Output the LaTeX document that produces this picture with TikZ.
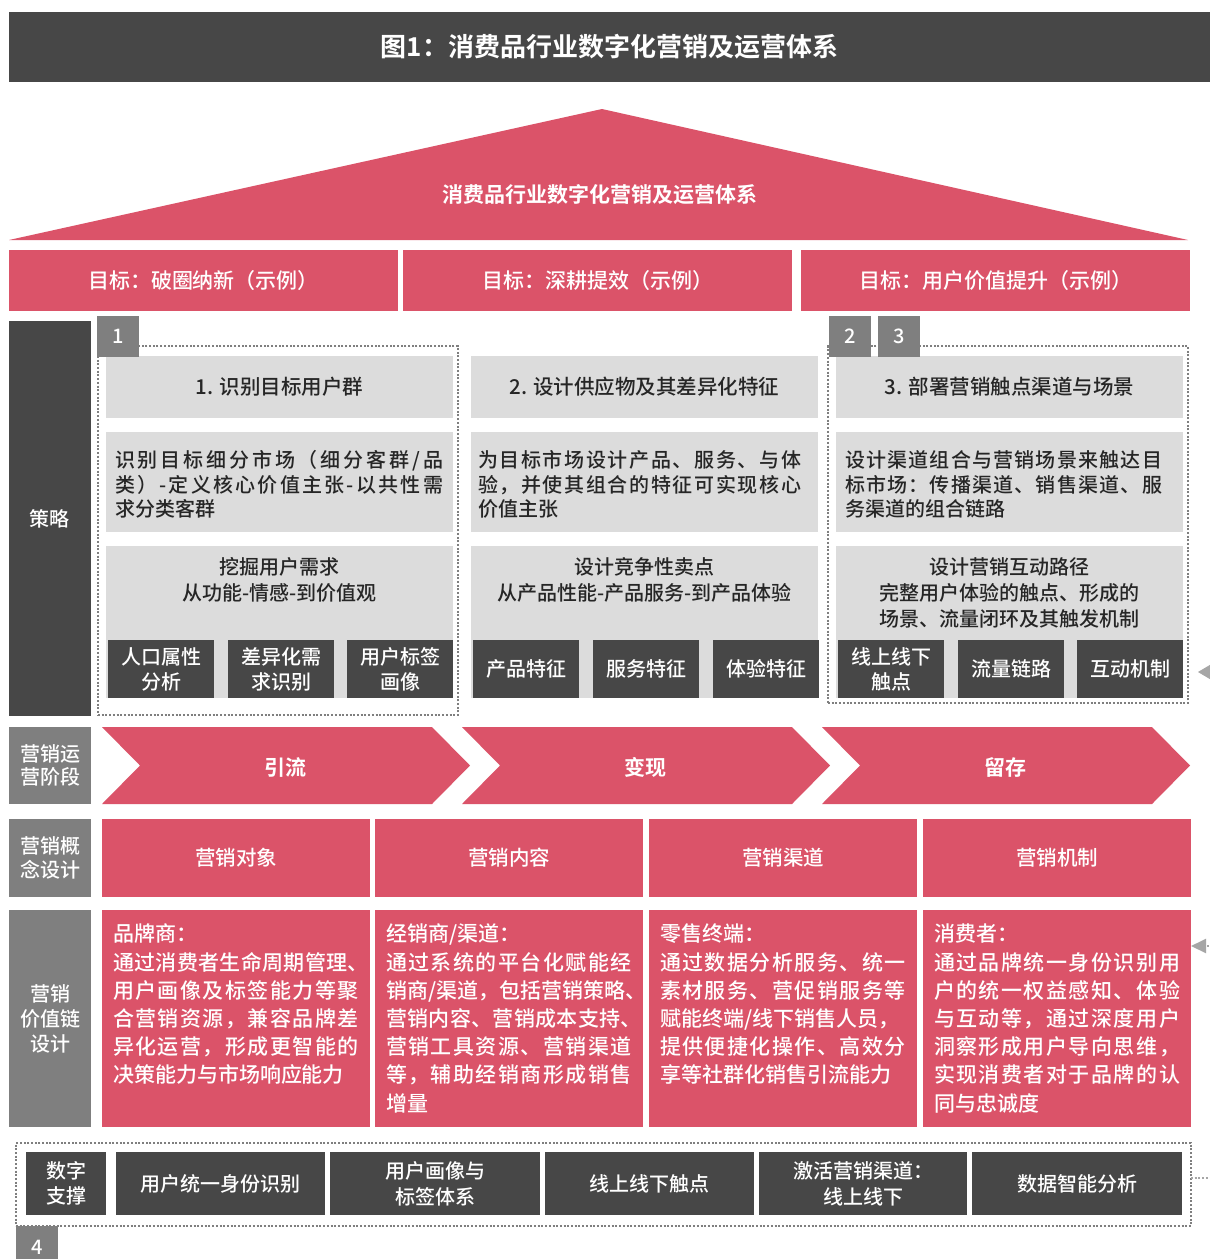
\documentclass[tikz,border=0pt]{standalone}
\usepackage{fontspec}
\setmainfont{Noto Sans CJK SC}[UprightFont={* Medium},BoldFont={* Bold}]
\usetikzlibrary{arrows.meta}
\definecolor{cred}{HTML}{DB5369}
\definecolor{cdark}{HTML}{474747}
\definecolor{cgray}{HTML}{7F7F7F}
\definecolor{clight}{HTML}{DCDCDC}
\definecolor{ctext}{HTML}{262626}
\definecolor{carrow}{HTML}{A6A6A6}
% justified single line: characters spread over a given width
\def\jlEnd{\relax}
\def\jlA#1{\ifx#1\jlEnd\else#1\expandafter\jlB\fi}
\def\jlB#1{\ifx#1\jlEnd\else\hfil#1\expandafter\jlB\fi}
\newcommand\jl[2]{\hbox to #1pt{\jlA#2\jlEnd}}
\newcommand\bx[7]{\node[#6,minimum width={(#4-#2)*1pt},minimum height={(#5-#3)*1pt}] (#1) at ({(#2+#4)/2},{(#3+#5)/2}) {#7};}
\tikzset{
  base/.style={inner sep=0pt,outer sep=0pt,align=center},
  redbox/.style={base,fill=cred,text=white},
  darkbox/.style={base,fill=cdark,text=white},
  graybox/.style={base,fill=cgray,text=white},
  lightbox/.style={base,fill=clight,text=ctext},
  dotbox/.style={base,draw=cgray,line width=2pt,dash pattern=on 2pt off 1.7pt},
  dotline/.style={draw=carrow,line width=2pt,dash pattern=on 2pt off 1.7pt},
  ftw/.style={font=\fontsize{20}{24.5}\selectfont},
  ftg/.style={font=\fontsize{21}{25}\selectfont},
  fth/.style={font=\fontsize{20.5}{25}\selectfont},
  ftl/.style={font=\fontsize{20}{26}\selectfont},
  fts/.style={font=\fontsize{20}{25}\selectfont},
  ftv/.style={font=\fontsize{21}{28.2}\selectfont},
  desctext/.style={base,ftw,text=ctext,align=left,anchor=west},
  vctext/.style={base,ftv,text=white,align=left,anchor=west},
  stagetext/.style={base,text=white,font=\bfseries\fontsize{21}{25}\selectfont},
}
\begin{document}
\begin{tikzpicture}[x=1pt,y=-1pt]
\useasboundingbox (0,0) rectangle (1210,1259);
\fill[white] (0,0) rectangle (1210,1259);

% title bar
\bx{title}{9}{12}{1210}{82}{darkbox,font=\bfseries\fontsize{26}{30}\selectfont}{图1：消费品行业数字化营销及运营体系}

% roof
\coordinate (roofL) at (9,240);
\coordinate (roofT) at (602,109);
\coordinate (roofR) at (1188,240);
\fill[cred] (roofL) -- (roofT) -- (roofR) -- cycle;
\node[base,text=white,font=\bfseries\fontsize{21}{25}\selectfont] (rooftext) at (600,195) {消费品行业数字化营销及运营体系};

% goals
\bx{goalA}{9}{250}{398}{311}{redbox,ftg}{目标：破圈纳新（示例）}
\bx{goalB}{403}{250}{792}{311}{redbox,ftg}{目标：深耕提效（示例）}
\bx{goalC}{801}{250}{1190}{311}{redbox,ftg}{目标：用户价值提升（示例）}

% left labels
\bx{lblStrategy}{9}{321}{91}{716}{darkbox,ftw}{策略}
\bx{lblStage}{9}{727}{91}{804}{graybox,font=\fontsize{20}{23.5}\selectfont}{营销运\\营阶段}
\bx{lblConcept}{9}{819}{91}{897}{graybox,font=\fontsize{20}{24}\selectfont}{营销概\\念设计}
\bx{lblChain}{9}{910}{91}{1127}{graybox,fts}{营销\\价值链\\设计}

% dotted groups
\bx{grpA}{98}{346}{458}{715}{dotbox}{}
\bx{grpC}{828}{346}{1188}{703}{dotbox}{}
\bx{grpD}{16}{1143}{1191}{1226}{dotbox}{}

% strategy headers
\bx{hA}{106}{356}{453}{418}{lightbox,fth}{1. 识别目标用户群}
\bx{hB}{471}{356}{818}{418}{lightbox,fth}{2. 设计供应物及其差异化特征}
\bx{hC}{836}{356}{1183}{418}{lightbox,fth}{3. 部署营销触点渠道与场景}

% number tabs
\bx{tabA}{97}{316}{139}{357}{graybox,ftw}{1}
\bx{tabB}{829}{316}{871}{357}{graybox,ftw}{2}
\bx{tabC}{878}{316}{920}{357}{graybox,ftw}{3}
\bx{tabD}{16}{1226}{58}{1268}{graybox,ftw}{4}

% descriptions
\bx{dA}{106}{432}{453}{532}{lightbox}{}
\bx{dB}{471}{432}{818}{532}{lightbox}{}
\bx{dC}{836}{432}{1183}{532}{lightbox}{}
\node[desctext] (dAt) at (115,484.5) {\jl{328}{识别目标细分市场（细分客群/品}\\\jl{328}{类）-定义核心价值主张-以共性需}\\求分类客群};
\node[desctext] (dBt) at (478,484.5) {\jl{323}{为目标市场设计产品、服务、与体}\\\jl{323}{验，并使其组合的特征可实现核心}\\价值主张};
\node[desctext] (dCt) at (845,484.5) {\jl{317}{设计渠道组合与营销场景来触达目}\\\jl{317}{标市场：传播渠道、销售渠道、服}\\务渠道的组合链路};

% lower strategy boxes
\bx{lA}{106}{546}{453}{698}{lightbox}{}
\bx{lB}{471}{546}{818}{698}{lightbox}{}
\bx{lC}{836}{546}{1183}{698}{lightbox}{}
\node[base,ftl,text=ctext] (lAt) at (279.5,580) {挖掘用户需求\\从功能-情感-到价值观};
\node[base,ftl,text=ctext] (lBt) at (644.5,580) {设计竞争性卖点\\从产品性能-产品服务-到产品体验};
\node[base,ftl,text=ctext] (lCt) at (1009.5,593) {设计营销互动路径\\完整用户体验的触点、形成的\\场景、流量闭环及其触发机制};

% dark sub boxes
\bx{sA1}{108}{640}{214}{698}{darkbox,fts}{人口属性\\分析}
\bx{sA2}{228}{640}{334}{698}{darkbox,fts}{差异化需\\求识别}
\bx{sA3}{347}{640}{453}{698}{darkbox,fts}{用户标签\\画像}
\bx{sB1}{473}{640}{579}{698}{darkbox,fts}{产品特征}
\bx{sB2}{593}{640}{699}{698}{darkbox,fts}{服务特征}
\bx{sB3}{713}{640}{819}{698}{darkbox,fts}{体验特征}
\bx{sC1}{838}{640}{944}{698}{darkbox,fts}{线上线下\\触点}
\bx{sC2}{958}{640}{1064}{698}{darkbox,fts}{流量链路}
\bx{sC3}{1077}{640}{1183}{698}{darkbox,fts}{互动机制}

% stage chevrons
\fill[cred] (102,727) -- (432,727) -- (470,765.5) -- (432,804) -- (102,804) -- (140,765.5) -- cycle;
\fill[cred] (462,727) -- (792,727) -- (830,765.5) -- (792,804) -- (462,804) -- (500,765.5) -- cycle;
\fill[cred] (822,727) -- (1152,727) -- (1190,765.5) -- (1152,804) -- (822,804) -- (860,765.5) -- cycle;
\node[stagetext] (stA) at (285,767) {引流};
\node[stagetext] (stB) at (645,767) {变现};
\node[stagetext] (stC) at (1005,767) {留存};

% concept row
\bx{cA}{102}{819}{370}{897}{redbox,fth}{营销对象}
\bx{cB}{375}{819}{643}{897}{redbox,fth}{营销内容}
\bx{cC}{649}{819}{917}{897}{redbox,fth}{营销渠道}
\bx{cD}{923}{819}{1191}{897}{redbox,fth}{营销机制}

% value chain row
\bx{vcA}{102}{910}{370}{1127}{redbox}{}
\bx{vcB}{375}{910}{643}{1127}{redbox}{}
\bx{vcC}{649}{910}{917}{1127}{redbox}{}
\bx{vcD}{923}{910}{1191}{1127}{redbox}{}
\node[vctext] (vcAt) at (113,1004.5) {品牌商：\\\jl{256}{通过消费者生命周期管理、}\\\jl{246}{用户画像及标签能力等聚}\\\jl{246}{合营销资源，兼容品牌差}\\\jl{246}{异化运营，形成更智能的}\\决策能力与市场响应能力};
\node[vctext] (vcBt) at (386,1018.5) {经销商/渠道：\\\jl{246}{通过系统的平台化赋能经}\\\jl{260}{销商/渠道，包括营销策略、}\\\jl{256}{营销内容、营销成本支持、}\\\jl{246}{营销工具资源、营销渠道}\\\jl{246}{等，辅助经销商形成销售}\\增量};
\node[vctext] (vcCt) at (660,1004.5) {零售终端：\\\jl{246}{通过数据分析服务、统一}\\\jl{246}{素材服务、营促销服务等}\\赋能终端/线下销售人员，\\\jl{246}{提供便捷化操作、高效分}\\享等社群化销售引流能力};
\node[vctext] (vcDt) at (934,1018.5) {消费者：\\\jl{246}{通过品牌统一身份识别用}\\\jl{246}{户的统一权益感知、体验}\\\jl{246}{与互动等，通过深度用户}\\\jl{246}{洞察形成用户导向思维，}\\\jl{246}{实现消费者对于品牌的认}\\同与忠诚度};

% digital support row
\bx{bA}{26}{1152}{106}{1215}{darkbox,fts}{数字\\支撑}
\bx{bB}{116}{1152}{325}{1215}{darkbox,ftw}{用户统一身份识别}
\bx{bC}{330}{1152}{540}{1215}{darkbox,font=\fontsize{20}{26}\selectfont}{用户画像与\\标签体系}
\bx{bD}{545}{1152}{754}{1215}{darkbox,ftw}{线上线下触点}
\bx{bE}{759}{1152}{967}{1215}{darkbox,font=\fontsize{20}{26}\selectfont}{激活营销渠道：\\线上线下}
\bx{bF}{972}{1152}{1182}{1215}{darkbox,ftw}{数据智能分析}

% partial connectors at the right edge
\coordinate (offA) at (1216,672);
\coordinate (tipA) at (1198,672);
\draw[carrow,line width=0.8pt,-{Triangle[length=12pt,width=14pt]}] (offA) -- (tipA);
\coordinate (offB) at (1216,946);
\draw[dotline,-{Triangle[length=15pt,width=14pt,fill=carrow]}] (offB) -- (vcD.east |- offB);
\coordinate (offD) at (1216,1178);
\draw[dotline] (offD -| grpD.east) -- (offD);
\end{tikzpicture}
\end{document}
